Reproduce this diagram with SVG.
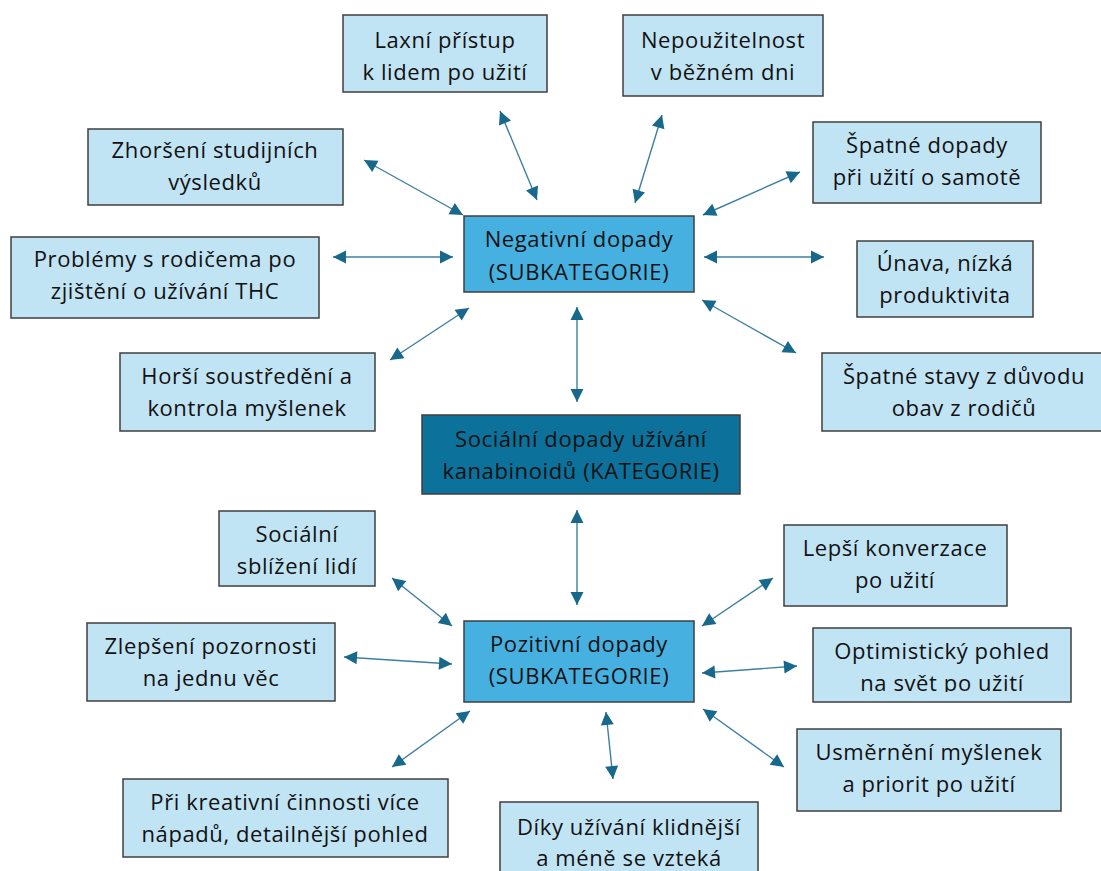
<svg xmlns="http://www.w3.org/2000/svg" width="1101" height="871" viewBox="0 0 1101 871">
<style>
rect{stroke:#3f3f3f;stroke-width:1.5}
.l{fill:#C1E4F5}
.m{fill:#46B1E1}
.d{fill:#0C719B}
text{font-family:"Open Sans","Noto Sans",sans-serif;font-size:22px;letter-spacing:0.6px;fill:#111;text-anchor:middle}
.c line{stroke:#3D7FA0;stroke-width:1.4;marker-start:url(#ah);marker-end:url(#ah)}
</style>
<defs>
<marker id="ah" markerUnits="userSpaceOnUse" markerWidth="16" markerHeight="16" viewBox="0 0 16 16" refX="14" refY="8" orient="auto-start-reverse">
<path d="M1,1.5 L14,8 L1,14.5 Z" fill="#17688A"/>
</marker>
<clipPath id="cOpt"><rect x="813" y="628" width="258" height="64"/></clipPath>
</defs>
<rect width="1101" height="871" fill="#fff" style="stroke:none"/>
<g class="c" id="connectors">
<line x1="500" y1="111" x2="537" y2="200"/>
<line x1="662" y1="115" x2="635" y2="203"/>
<line x1="364" y1="160" x2="463" y2="215"/>
<line x1="333" y1="257" x2="453" y2="257"/>
<line x1="390" y1="360" x2="469" y2="308"/>
<line x1="577" y1="307" x2="577" y2="402"/>
<line x1="800" y1="172" x2="703" y2="215"/>
<line x1="704" y1="257" x2="824" y2="257"/>
<line x1="702" y1="300" x2="796" y2="353"/>
<line x1="577" y1="510" x2="577" y2="605"/>
<line x1="392" y1="578" x2="452" y2="626"/>
<line x1="344" y1="657" x2="452" y2="664"/>
<line x1="392" y1="767" x2="470" y2="711"/>
<line x1="606" y1="712" x2="613" y2="779"/>
<line x1="703" y1="709" x2="784" y2="767"/>
<line x1="702" y1="673" x2="797" y2="666"/>
<line x1="702" y1="626" x2="773" y2="578"/>
</g>
<g id="n1"><rect class="l" x="343" y="15" width="204" height="77"/><text x="445" y="48">Laxní přístup</text><text x="445" y="80">k lidem po užití</text></g>
<g id="n2"><rect class="l" x="623" y="15" width="200" height="81"/><text x="723" y="48">Nepoužitelnost</text><text x="723" y="80">v běžném dni</text></g>
<g id="n3"><rect class="l" x="88" y="129" width="255" height="76"/><text x="215" y="158">Zhoršení studijních</text><text x="215" y="190">výsledků</text></g>
<g id="n4"><rect class="l" x="11" y="237" width="308" height="81"/><text x="165" y="267">Problémy s rodičema po</text><text x="165" y="299">zjištění o užívání THC</text></g>
<g id="n5"><rect class="l" x="120" y="353" width="255" height="78"/><text x="247" y="384">Horší soustředění a</text><text x="247" y="416">kontrola myšlenek</text></g>
<g id="n6"><rect class="l" x="813" y="122" width="228" height="81"/><text x="927" y="153">Špatné dopady</text><text x="927" y="185">při užití o samotě</text></g>
<g id="n7"><rect class="l" x="857" y="241" width="176" height="76"/><text x="945" y="271">Únava, nízká</text><text x="945" y="303">produktivita</text></g>
<g id="n8"><rect class="l" x="822" y="353" width="285" height="78"/><text x="964" y="384">Špatné stavy z důvodu</text><text x="964" y="416">obav z rodičů</text></g>
<g id="neg"><rect class="m" x="464" y="216" width="230" height="76"/><text x="579" y="247">Negativní dopady</text><text x="579" y="280">(SUBKATEGORIE)</text></g>
<g id="kat"><rect class="d" x="422" y="415" width="318" height="79"/><text x="581" y="447">Sociální dopady užívání</text><text x="581" y="479">kanabinoidů (KATEGORIE)</text></g>
<g id="poz"><rect class="m" x="464" y="621" width="230" height="81"/><text x="579" y="652">Pozitivní dopady</text><text x="579" y="684">(SUBKATEGORIE)</text></g>
<g id="p1"><rect class="l" x="219" y="511" width="156" height="75"/><text x="297" y="542">Sociální</text><text x="297" y="574">sblížení lidí</text></g>
<g id="p2"><rect class="l" x="87" y="623" width="248" height="78"/><text x="211" y="654">Zlepšení pozornosti</text><text x="211" y="686">na jednu věc</text></g>
<g id="p3"><rect class="l" x="123" y="779" width="325" height="78"/><text x="285" y="810">Při kreativní činnosti více</text><text x="285" y="842">nápadů, detailnější pohled</text></g>
<g id="p4"><rect class="l" x="500" y="802" width="258" height="80"/><text x="629" y="835">Díky užívání klidnější</text><text x="629" y="866">a méně se vzteká</text></g>
<g id="p5"><rect class="l" x="784" y="525" width="223" height="81"/><text x="895" y="556">Lepší konverzace</text><text x="895" y="588">po užití</text></g>
<g id="p6"><rect class="l" x="813" y="628" width="258" height="74"/><g clip-path="url(#cOpt)"><text x="942" y="659">Optimistický pohled</text><text x="942" y="691">na svět po užití</text></g></g>
<g id="p7"><rect class="l" x="797" y="729" width="264" height="82"/><text x="929" y="760">Usměrnění myšlenek</text><text x="929" y="792">a priorit po užití</text></g>
</svg>
